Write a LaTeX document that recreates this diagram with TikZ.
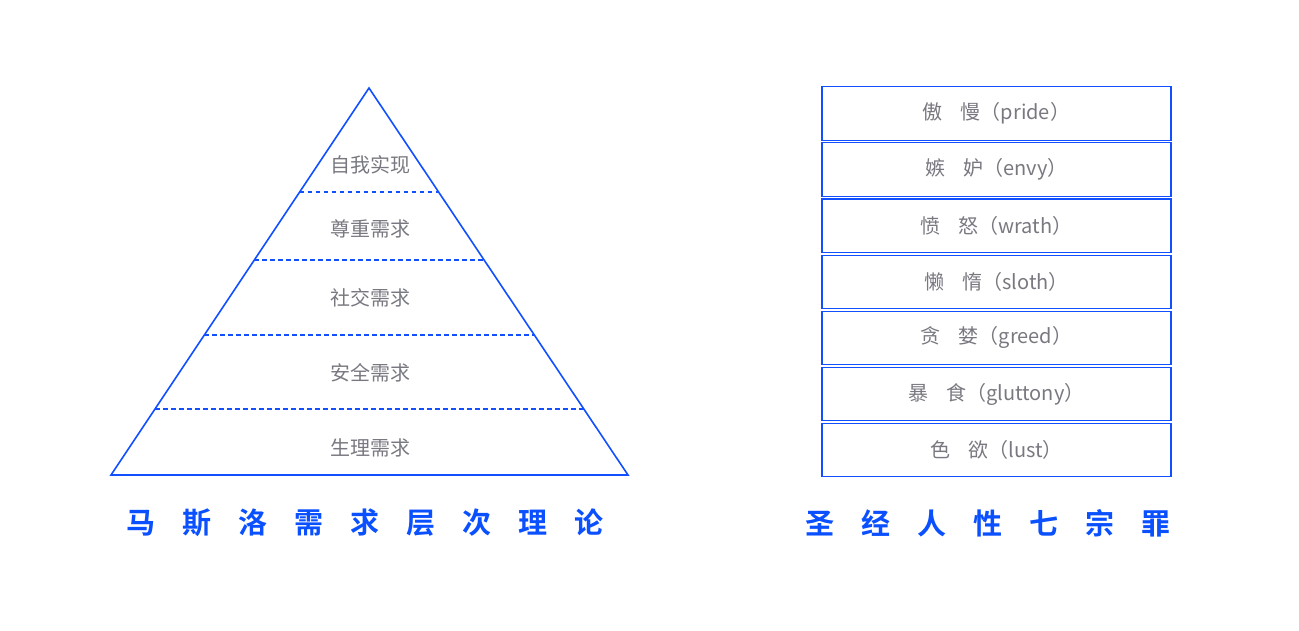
\documentclass[tikz,border=0pt]{standalone}
\usepackage{fontspec}
\newfontfamily\cjk{Noto Sans CJK SC}
\newfontfamily\cjkbold{Noto Sans CJK SC}[BoldFont={* Bold}]
\definecolor{lineblue}{RGB}{18,80,255}
\definecolor{titleblue}{RGB}{10,80,255}
\definecolor{txtgray}{RGB}{120,121,128}
\tikzset{
  edge/.style={draw=lineblue, line width=1.6pt, line join=miter},
  level/.style={draw=lineblue, line width=1.3pt, dash pattern=on 4.5pt off 3.5pt},
  lab/.style={text=txtgray, font=\cjk\fontsize{20}{23}\selectfont, inner sep=0pt},
  sinbox/.style={draw=lineblue, line width=1.1pt, minimum width=349pt, minimum height=53.4pt, text=txtgray, font=\cjk\fontsize{20}{23}\selectfont, inner sep=0pt},
  title/.style={text=titleblue, font=\cjkbold\bfseries\fontsize{29}{32}\selectfont, inner sep=0pt}
}
\begin{document}
\begin{tikzpicture}[x=1pt,y=-1pt]
\useasboundingbox (0,0) rectangle (1299,630);
% pyramid
\coordinate (apex) at (369,88);
\coordinate (bl) at (111,475);
\coordinate (br) at (628,475);
\draw[edge] (apex) -- (bl) -- (br) -- cycle;
\coordinate (l1) at (299.7,192); \coordinate (r1) at (438.4,192);
\coordinate (l2) at (254.3,260); \coordinate (r2) at (484.1,260);
\coordinate (l3) at (204.3,335); \coordinate (r3) at (534.2,335);
\coordinate (l4) at (155.0,409); \coordinate (r4) at (583.7,409);
\draw[level] (l1) -- (r1);
\draw[level] (l2) -- (r2);
\draw[level] (l3) -- (r3);
\draw[level] (l4) -- (r4);
\node[lab] (p1) at (370,165) {自我实现};
\node[lab] (p2) at (370,229) {尊重需求};
\node[lab] (p3) at (370,298) {社交需求};
\node[lab] (p4) at (370,373) {安全需求};
\node[lab] (p5) at (370,448) {生理需求};
% sins
\node[sinbox] (s1) at (996.5,113.5) {傲\hspace{18pt}慢（pride）};
\node[sinbox] (s2) at (996.5,169.6) {嫉\hspace{18pt}妒（envy）};
\node[sinbox] (s3) at (996.5,225.7) {愤\hspace{18pt}怒（wrath）};
\node[sinbox] (s4) at (996.5,281.8) {懒\hspace{18pt}惰（sloth）};
\node[sinbox] (s5) at (996.5,337.9) {贪\hspace{18pt}婪（greed）};
\node[sinbox] (s6) at (996.5,394.0) {暴\hspace{18pt}食（gluttony）};
\node[sinbox] (s7) at (996.5,450.1) {色\hspace{18pt}欲（lust）};
% titles
\node[title] (t1) at (365,523) {马\hspace{27pt}斯\hspace{27pt}洛\hspace{27pt}需\hspace{27pt}求\hspace{27pt}层\hspace{27pt}次\hspace{27pt}理\hspace{27pt}论};
\node[title] (t2) at (988,523) {圣\hspace{27pt}经\hspace{27pt}人\hspace{27pt}性\hspace{27pt}七\hspace{27pt}宗\hspace{27pt}罪};
\end{tikzpicture}
\end{document}
